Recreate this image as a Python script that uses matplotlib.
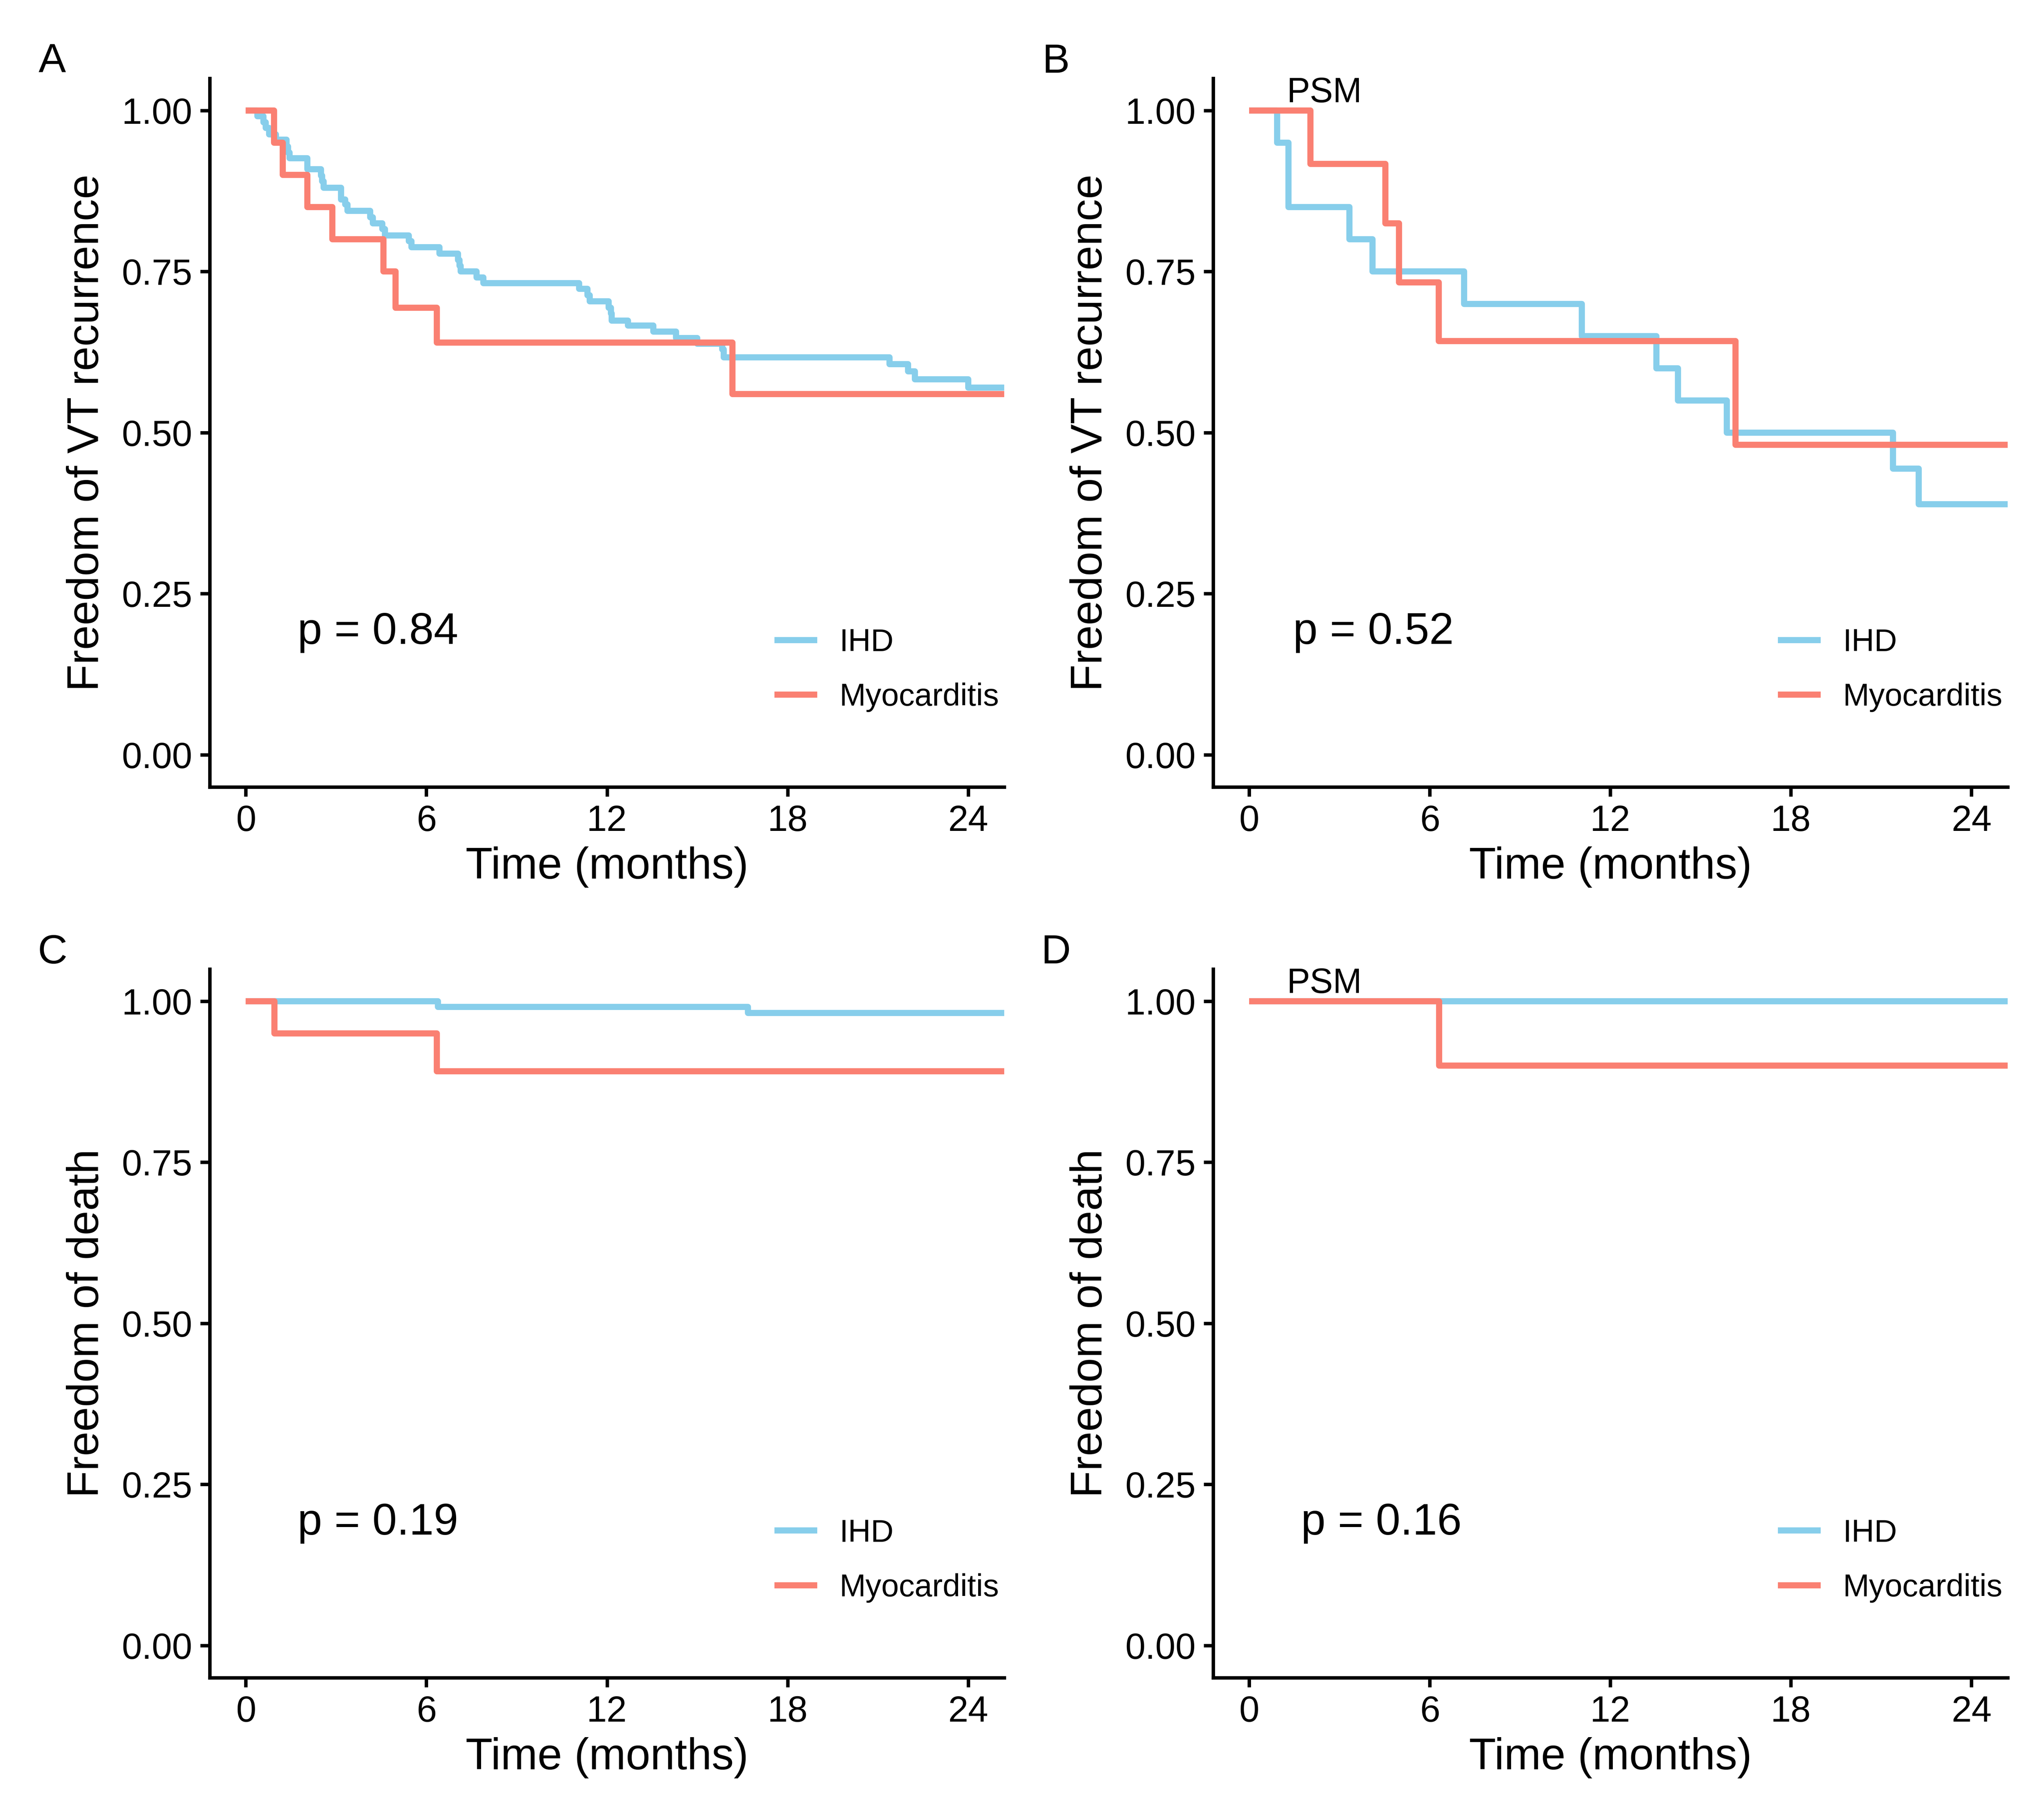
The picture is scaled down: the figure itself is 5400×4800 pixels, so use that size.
import matplotlib
matplotlib.use("Agg")
import matplotlib.pyplot as plt

plt.rcParams['font.family'] = ['Liberation Sans', 'DejaVu Sans']

IHD_COLOR = "#87CEEB"
MYO_COLOR = "#FA8072"

# follow-up continues past the 24 month window (curves are clipped at the axis)
followup_end = 26.0

# Panel A - VT recurrence, all patients
a_ihd_time = [0, 0.39, 0.59, 0.66, 0.78, 1.00, 1.35, 1.40, 1.45, 2.05, 2.50, 2.54, 2.58,
              3.16, 3.30, 3.38, 4.13, 4.22, 4.53, 4.62, 5.42, 5.50, 6.43, 7.05, 7.10,
              7.14, 7.67, 7.89, 11.08, 11.35, 11.43, 12.05, 12.13, 12.16, 12.70, 13.54,
              14.29, 15.00, 15.83, 15.88, 21.39, 22.01, 22.23, 24.00]
a_ihd_surv = [1.000, 0.991, 0.982, 0.973, 0.963, 0.955, 0.944, 0.935, 0.926, 0.909, 0.899,
              0.890, 0.880, 0.862, 0.854, 0.844, 0.834, 0.825, 0.816, 0.806, 0.797, 0.788,
              0.778, 0.768, 0.759, 0.750, 0.741, 0.732, 0.723, 0.713, 0.704, 0.694, 0.685,
              0.674, 0.666, 0.657, 0.647, 0.638, 0.629, 0.617, 0.606, 0.595, 0.583, 0.570]
a_myo_time = [0, 0.94, 1.23, 2.05, 2.88, 4.57, 4.98, 6.35, 16.17]
a_myo_surv = [1.00, 0.95, 0.90, 0.85, 0.80, 0.75, 0.694, 0.64, 0.56]

# Panel B - VT recurrence, PSM
b_ihd_time = [0, 0.93, 1.30, 3.33, 4.10, 7.14, 11.05, 13.53, 14.25, 15.87, 21.39, 22.24]
b_ihd_surv = [1.00, 0.95, 0.85, 0.80, 0.75, 0.70, 0.65, 0.60, 0.55, 0.50, 0.444, 0.389]
b_myo_time = [0, 2.03, 4.53, 4.98, 6.30, 16.16]
b_myo_surv = [1.00, 0.917, 0.825, 0.733, 0.642, 0.481]

# Panel C - death, all patients
c_ihd_time = [0, 6.39, 16.68]
c_ihd_surv = [1.00, 0.991, 0.982]
c_myo_time = [0, 0.95, 6.34]
c_myo_surv = [1.00, 0.95, 0.891]

# Panel D - death, PSM
d_ihd_time = [0]
d_ihd_surv = [1.00]
d_myo_time = [0, 6.31]
d_myo_surv = [1.00, 0.90]

x_ticks = [0, 6, 12, 18, 24]
y_ticks = [0.00, 0.25, 0.50, 0.75, 1.00]
group_labels = ["IHD", "Myocarditis"]

panels = [
    # letter, ihd, myo, ylabel, p text, p x, psm?, axes rect
    ("A", (a_ihd_time, a_ihd_surv), (a_myo_time, a_myo_surv), "Freedom of VT recurrence",
     "p = 0.84", 1.72, False, [0.1026, 0.5669, 0.3887, 0.39]),
    ("B", (b_ihd_time, b_ihd_surv), (b_myo_time, b_myo_surv), "Freedom of VT recurrence",
     "p = 0.52", 1.45, True, [0.5935, 0.5669, 0.3887, 0.39]),
    ("C", (c_ihd_time, c_ihd_surv), (c_myo_time, c_myo_surv), "Freedom of death",
     "p = 0.19", 1.72, False, [0.1026, 0.0767, 0.3887, 0.39]),
    ("D", (d_ihd_time, d_ihd_surv), (d_myo_time, d_myo_surv), "Freedom of death",
     "p = 0.16", 1.72, True, [0.5935, 0.0767, 0.3887, 0.39]),
]

fig = plt.figure(figsize=(18, 16), dpi=300)

for letter, ihd, myo, ylab, ptext, px, psm, rect in panels:
    ax = fig.add_axes(rect)
    handles = []
    for (t, s), col in [(ihd, IHD_COLOR), (myo, MYO_COLOR)]:
        tt = list(t) + [followup_end]
        ss = list(s) + [s[-1]]
        ln, = ax.step(tt, ss, where="post", color=col, lw=3.9,
                      solid_capstyle="butt", solid_joinstyle="round")
        handles.append(ln)

    ax.set_xlim(-1.2, 25.2)
    ax.set_ylim(-0.05, 1.05)
    ax.set_xticks(x_ticks)
    ax.set_yticks(y_ticks)
    ax.set_yticklabels(["%.2f" % v for v in y_ticks])
    for side in ["top", "right"]:
        ax.spines[side].set_visible(False)
    for side in ["left", "bottom"]:
        ax.spines[side].set_linewidth(2.2)
    ax.tick_params(direction="out", length=6, width=2.2, labelsize=23,
                   colors="black", pad=5)
    ax.set_xlabel("Time (months)", fontsize=28, labelpad=5)
    ax.set_ylabel(ylab, fontsize=28, labelpad=9)

    ax.text(px, 0.172, ptext, fontsize=28, ha="left", va="baseline")
    if psm:
        ax.text(2.5, 1.013, "PSM", fontsize=22, ha="center", va="baseline")

    ax.legend(handles, group_labels, loc="center left", bbox_to_anchor=(0.711, 0.165),
              frameon=False, fontsize=20, handlelength=1.35, handletextpad=0.7,
              labelspacing=0.8, borderpad=0, borderaxespad=0)

    # panel letter above the y axis
    bb = ax.get_position()
    fig.text(bb.x0 - 0.077, bb.y1 + 0.009, letter, fontsize=26, ha="center", va="center")

fig.savefig("out.png", dpi=300, facecolor="white")
